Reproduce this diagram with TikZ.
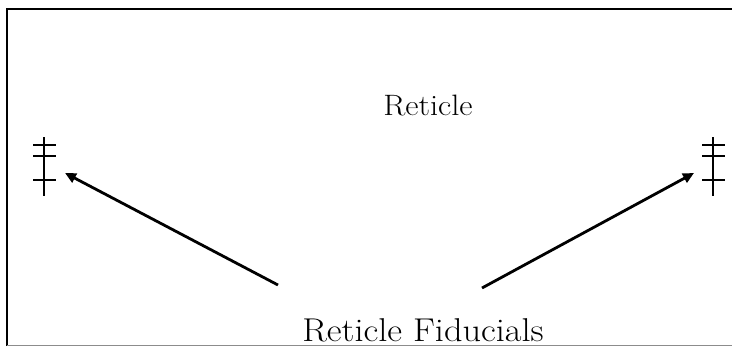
\documentclass[tikz,border=0pt]{standalone}
\usepackage{graphicx}
\usetikzlibrary{arrows.meta}
\tikzstyle{frame} = [line width=2pt, draw=black]
\tikzstyle{fid} = [line width=1.3pt]
\tikzstyle{arrow} = [line width=2.8pt,-{Triangle[length=11pt,width=10pt]}]
\tikzstyle{lbl} = [inner sep=0pt, anchor=base]

\begin{document}
\begin{tikzpicture}[x=1pt,y=-1pt]
      \useasboundingbox (0,0) rectangle (732,346);
      \draw[frame] (7,346) -- (7,8.5) -- (732,8.5);
      \draw[line width=1pt, black!45] (7,345.5) -- (732,345.5);
      % fiducial marks
      \foreach \x in {44,713}{
        \draw[fid] (\x,137) -- (\x,196);
        \foreach \y in {145,156,180}
          \draw[fid] (\x-11,\y) -- (\x+12,\y);
      }
      \node (reticle)[lbl] at (428,115) {\fontsize{29.5}{35}\selectfont\scalebox{1.1}[1]{Reticle}};
      \node (fiducials)[lbl] at (423,341) {\fontsize{33}{40}\selectfont\scalebox{1.1}[1]{Reticle Fiducials}};
      \coordinate (fidL) at (65,173);
      \coordinate (fidR) at (694,173);
      \coordinate (tailL) at (278,285);
      \coordinate (tailR) at (482,288);
      \draw [arrow](tailL)--(fidL);
      \draw [arrow](tailR)--(fidR);
    \end{tikzpicture}
\end{document}
